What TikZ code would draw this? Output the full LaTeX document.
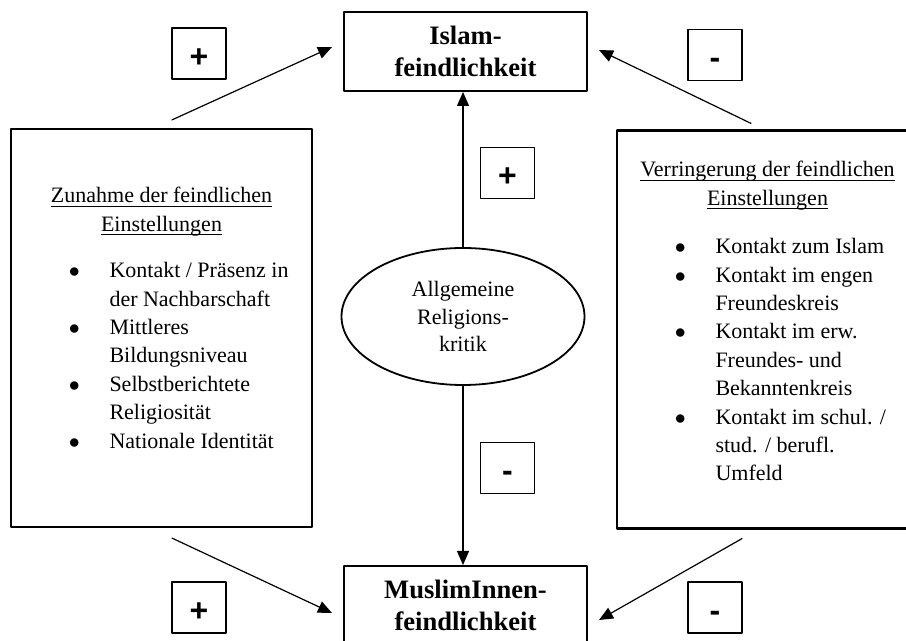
\documentclass[tikz,border=0pt]{standalone}
\usepackage{fontspec}
\setmainfont{Liberation Serif}
\setsansfont{Liberation Sans}
\usetikzlibrary{shapes.geometric,arrows.meta}

% 箇条書きの一項目
\newcommand{\punkt}[1]{\par\noindent\hangindent=41.5pt\hangafter=1\makebox[41.5pt][l]{\hspace*{21.2pt}$\bullet$}{\let\\\newline#1}\par}
% 下線(一定の深さ)
\newcommand{\ustrich}[1]{\leavevmode\setbox0\hbox{#1}\rlap{\rule[-1.8pt]{\wd0}{0.5pt}}\box0}

\tikzset{
  kasten/.style={draw, line width=1pt, minimum width=121.5pt, minimum height=39.5pt, inner sep=0pt, align=center, font=\fontsize{13.3}{16}\selectfont\bfseries},
  feld/.style={draw, line width=1.1pt, minimum width=150.5pt, minimum height=199pt, inner sep=0pt},
  feldtext/.style={anchor=base, inner sep=0pt, font=\fontsize{11}{14.2}\selectfont},
  zeichen/.style={draw, line width=0.75pt, minimum width=27pt, minimum height=25.5pt, inner sep=0pt, text height=14pt, text depth=0pt, font=\sffamily\bfseries\fontsize{16}{16}\selectfont},
  pfeil/.style={-{Triangle[length=7pt,width=6pt]}, line width=0.6pt},
}

\begin{document}
\begin{tikzpicture}[x=0.5pt, y=-0.5pt, line cap=round, line join=round]
            \useasboundingbox (0,0) rectangle (906,641);
            \clip (0,0) rectangle (906,641);
            % 上下の箱
            \node[kasten] (islam) at (465.5,51.5) {Islam-\\feindlichkeit};
            \node[kasten] (muslim) at (465.5,605.5) {MuslimInnen-\\feindlichkeit};
            % --- 左右の大きな箱 ---
            \node[feld] (zunahme) at (161.5,328) {};
            \node[feld] (verringerung) at (767.5,329.5) {};
            \node[feldtext] (zunahmeText) at (161.5,203) {\parbox[t]{135pt}{\centering\ustrich{Zunahme der feindlichen}\\\ustrich{Einstellungen}\par\vspace{9pt}\raggedright
              \punkt{Kontakt / Präsenz in\\der Nachbarschaft}
              \punkt{Mittleres\\Bildungsniveau}
              \punkt{Selbstberichtete\\Religiosität}
              \punkt{Nationale Identität}}};
            \node[feldtext] (verringerungText) at (767.5,177) {\parbox[t]{135pt}{\centering\ustrich{Verringerung der feindlichen}\\\ustrich{Einstellungen}\par\vspace{10pt}\raggedright
              \punkt{Kontakt zum Islam}
              \punkt{Kontakt im engen\\Freundeskreis}
              \punkt{Kontakt im erw.\\Freundes- und\\Bekanntenkreis}
              \punkt{Kontakt im schul. /\\stud. / berufl.\\Umfeld}}};
            % 中央の楕円
            \node[draw, ellipse, line width=0.9pt, minimum width=121.5pt, minimum height=68.5pt, inner sep=0pt, align=center, font=\fontsize{11}{13.75}\selectfont] (religion) at (463,316.5) {Allgemeine\\Religions-\\kritik};
            % --- 符号の小箱 ---
            \node[zeichen] (plusOL) at (199,53.5) {+};
            \node[zeichen] (minusOR) at (715,55) {-};
            \node[zeichen] (plusM) at (507.5,173) {+};
            \node[zeichen] (minusM) at (507.5,468) {-};
            \node[zeichen] (plusUL) at (199,607.5) {+};
            \node[zeichen] (minusUR) at (715,607.5) {-};
            % 矢印
            \draw[pfeil] ([shift={(10.5,-8)}]zunahme.north) -- ([shift={(-11,-4.5)}]islam.west);
            \draw[pfeil] ([shift={(-16.5,-6)}]verringerung.north) -- ([shift={(11,-1.5)}]islam.east);
            \draw[pfeil] (religion.north) -- (religion.north |- islam.south);
            \draw[pfeil] (religion.south) -- (religion.south |- muslim.north);
            \draw[pfeil] ([shift={(10.5,10)}]zunahme.south) -- ([shift={(-11,7.5)}]muslim.west);
            \draw[pfeil] ([shift={(-25.5,9)}]verringerung.south) -- ([shift={(11,14.5)}]muslim.east);
\end{tikzpicture}
\end{document}
